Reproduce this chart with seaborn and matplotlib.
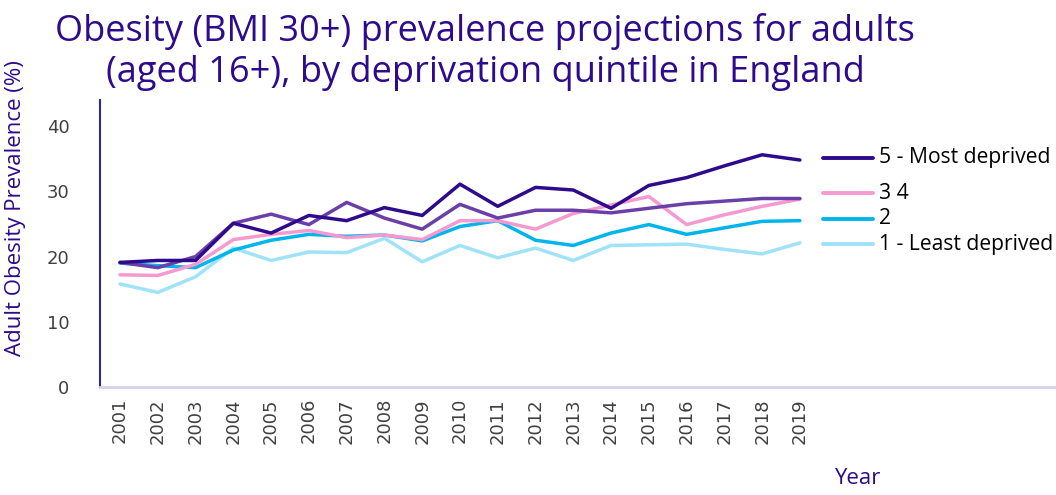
import pandas as pd
import matplotlib
matplotlib.use("Agg")
import matplotlib.pyplot as plt
import seaborn as sns

# data
years = list(range(2001, 2020))
q5_most = [19.1, 19.4, 19.4, 25.1, 23.6, 26.3, 25.5, 27.5, 26.3, 31.1,
           27.7, 30.6, 30.2, 27.4, 30.9, 32.1, 33.9, 35.6, 34.8]
q4 = [19.1, 18.3, 20.0, 25.1, 26.5, 24.9, 28.3, 25.9, 24.2, 28.0,
      25.9, 27.1, 27.1, 26.7, 27.4, 28.1, 28.5, 28.9, 28.9]
q3 = [17.2, 17.1, 18.8, 22.6, 23.4, 24.0, 22.9, 23.3, 22.6, 25.5,
      25.5, 24.2, 26.6, 27.9, 29.2, 24.9, 26.4, 27.7, 28.8]
q2 = [19.0, 18.6, 18.3, 21.0, 22.5, 23.4, 23.1, 23.3, 22.4, 24.6,
      25.5, 22.5, 21.7, 23.6, 24.9, 23.4, 24.4, 25.4, 25.5]
q1_least = [15.8, 14.5, 16.9, 21.3, 19.4, 20.7, 20.6, 22.8, 19.2, 21.7,
            19.8, 21.3, 19.4, 21.7, 21.8, 21.9, 21.1, 20.4, 22.1]

quintiles = ["5", "4", "3", "2", "1"]
series = [q5_most, q4, q3, q2, q1_least]
colors = {"5": "#2e0a8c", "4": "#6b3fa8", "3": "#f49ad0", "2": "#00b4ec", "1": "#a0e2f8"}
legend_items = [("5", "5 - Most deprived"), ("3", "3 4"), ("2", "2"), ("1", "1 - Least deprived")]

df = pd.concat([pd.DataFrame({"year": years, "value": v, "quintile": q})
                for q, v in zip(quintiles, series)])

indigo = "#2e0a8c"
sns.set_style("white")
plt.rcParams["font.family"] = ["DejaVu Sans"]

fig = plt.figure(figsize=(10.56, 4.95), dpi=100)
ax = fig.add_axes([100 / 1056, 1 - 387 / 495, 956 / 1056, 287 / 495])

sns.lineplot(data=df, x="year", y="value", hue="quintile", palette=colors,
             hue_order=quintiles[::-1], linewidth=2.5, legend=False, ax=ax)

ax.set_xlim(2000.47, 2025.78)
ax.set_ylim(0, 44)
ax.set_xticks(years)
ax.set_xticklabels([str(y) for y in years], rotation=90)
ax.set_yticks([0, 10, 20, 30, 40])
ax.tick_params(axis="both", length=0, labelsize=13, labelcolor="#404040")
ax.tick_params(axis="y", pad=22)
ax.tick_params(axis="x", pad=8)
ax.set_xlabel("")
ax.set_ylabel("")

for s in ["top", "right"]:
    ax.spines[s].set_visible(False)
ax.spines["left"].set_color("#2a2a8c")
ax.spines["left"].set_linewidth(1.5)
ax.spines["bottom"].set_color("#d4d0f2")
ax.spines["bottom"].set_linewidth(2)

# manual legend to the right of the lines (pixel rows from the reference)
leg_pix = [158, 193, 219, 244]
for (q, label), py in zip(legend_items, leg_pix):
    yf = 1 - py / 495
    fig.add_artist(plt.Line2D([823 / 1056, 873 / 1056], [yf, yf], color=colors[q],
                              linewidth=2.8, transform=fig.transFigure))
    fig.text(879 / 1056, yf, label, fontsize=15.2, family="Open Sans",
             color="black", va="center", ha="left")

fig.text(485 / 1056, 1 - 52 / 495,
         "Obesity (BMI 30+) prevalence projections for adults\n"
         "(aged 16+), by deprivation quintile in England",
         ha="center", va="center", fontsize=26, color=indigo,
         family="Open Sans", linespacing=1.2)

fig.text(16 / 1056, 1 - 208 / 495, "Adult Obesity Prevalence (%)", rotation=90,
         ha="center", va="center", fontsize=16, color=indigo, family="Open Sans")
fig.text(857 / 1056, 1 - 478 / 495, "Year", ha="center", va="center",
         fontsize=16, color=indigo, family="Open Sans")

fig.savefig("out.png", dpi=100)
